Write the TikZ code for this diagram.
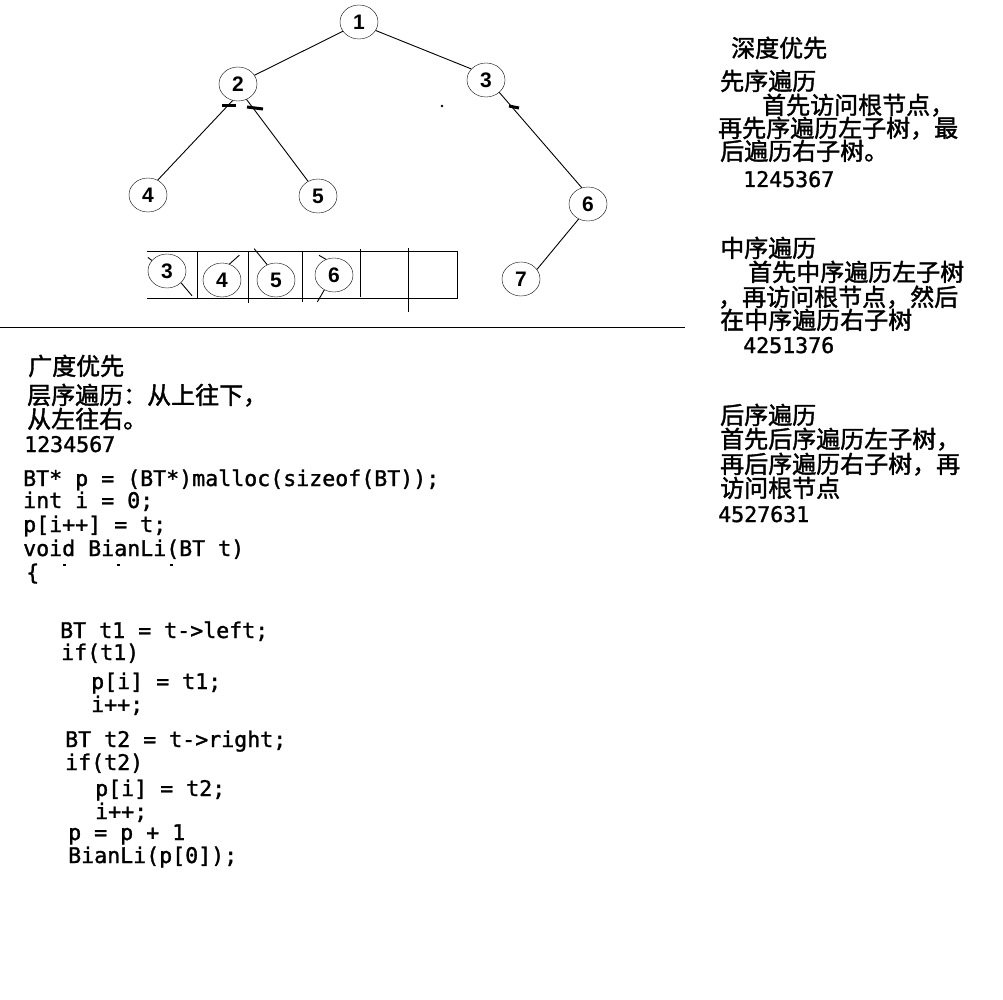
\documentclass[tikz,border=0pt]{standalone}
\usepackage{fontspec}
\setmainfont{Liberation Sans}
\newfontfamily\cjkfont{Noto Sans CJK SC}[FakeBold=1.6]
\newfontfamily\codefont{DejaVu Sans Mono}[FakeBold=1.4]
\usetikzlibrary{shapes.geometric,positioning}

\begin{document}
\begin{tikzpicture}
[x=1pt,y=-1pt,
vertex/.style={shape=ellipse,draw,inner sep=0pt,minimum width=38pt,minimum height=34pt,
  font=\bfseries\fontsize{21}{21}\selectfont},
myedge/.style={line width=0.9pt,black},
blot/.style={line width=3pt,black},
%
cjk/.style={anchor=base west,inner sep=0pt,font=\cjkfont\fontsize{24}{24}\selectfont},
code/.style={anchor=base west,inner sep=0pt,font=\codefont\fontsize{21.6}{21.6}\selectfont}]
%
\fill[white] (0,0) rectangle (1003,1000);
\useasboundingbox (0,0) rectangle (1003,1000);
%
\begin{scope}[local bounding box=tree]
\node (v1) [vertex] at (359,22) {1};
\node (v2) [vertex] at (238,84) {2};
\node (v3) [vertex] at (486,80) {3};
\node (v4) [vertex] at (148,195) {4};
\node (v5) [vertex] at (318,196) {5};
\node (v6) [vertex] at (588,204) {6};
\node (v7) [vertex] at (521,279) {7};
%
\draw[myedge] (v1.210) -- (v2.28);
\draw[myedge] (v1.-27) -- (v3.143);
\draw[myedge] (v2.-108) -- (v4.57);
\draw[myedge] (v2.-61) -- (v5.124);
\draw[myedge] (v3.-43) -- (v6.111);
\draw[myedge] (v6.238) -- (v7.31);
%
\draw[blot] (222,106) -- (236,106);
\draw[blot] (247,107) -- (263,109);
\draw[blot] (509,106) -- (519,108);
\fill (442,106) circle (1.3);
\end{scope}
%
%% queue
\begin{scope}[local bounding box=queue]
\draw[myedge] (147,251) -- (457,251) -- (457,298) -- (147,298);
\foreach \x/\a/\b in {197/251/299,248/251/303,302/251/302,360/249/297,408/248/312}
  \draw[myedge] (\x,\a) -- (\x,\b);
\node (q3) [vertex] at (167,271) {3};
\node (q4) [vertex] at (222,280) {4};
\node (q5) [vertex] at (276,280) {5};
\node (q6) [vertex] at (334,275) {6};
\draw[myedge] (q3.145) -- ++(-4,-3);
\draw[myedge] (q3.-40) -- ++(11,13);
\draw[myedge] (q4.65) -- ++(10,-9);
\draw[myedge] (q5.120) -- ++(-13,-16);
\draw[myedge] (q6.117) -- ++(-7,-4);
\draw[myedge] (q6.237) -- ++(-7,12);
\end{scope}
%
\draw[myedge] (0,327) -- (685,327);
%
%% depth first
\node (dfs) [cjk] at (731,57) {深度优先};
\node (pre) [cjk] at (720,90) {先序遍历};
\node (pre1) [cjk] at (762,114) {首先访问根节点，};
\node (pre2) [cjk] at (718,137) {再先序遍历左子树，最};
\node (pre3) [cjk] at (720,160) {后遍历右子树。};
\node (pren) [code] at (743,187) {1245367};
%
\node (in) [cjk] at (720,257) {中序遍历};
\node (in1) [cjk] at (748,281) {首先中序遍历左子树};
\node (in2) [cjk] at (718,306) {，再访问根节点，然后};
\node (in3) [cjk] at (720,329) {在中序遍历右子树};
\node (inn) [code] at (743,353) {4251376};
%
\node (post) [cjk] at (720,424) {后序遍历};
\node (post1) [cjk] at (720,448) {首先后序遍历左子树，};
\node (post2) [cjk] at (720,473) {再后序遍历右子树，再};
\node (post3) [cjk] at (720,497) {访问根节点};
\node (postn) [code] at (718,522) {4527631};
%
%% breadth first
\node (bfs) [cjk] at (28,375) {广度优先};
\node (lev1) [cjk] at (27,404) {层序遍历：从上往下，};
\node (lev2) [cjk] at (27,428) {从左往右。};
\node (levn) [code] at (24,452) {1234567};
%
\node (c1) [code] at (23,486) {BT* p = (BT*)malloc(sizeof(BT));};
\node (c2) [code] at (23,508) {int i = 0;};
\node (c3) [code] at (23,532) {p[i++] = t;};
\node (c4) [code] at (23,556) {void BianLi(BT t)};
\node (c5) [code] at (26,580) {\{};
\foreach \x in {63,117,170}
  \draw[line width=2pt] (\x,565) -- ++(3,0);
\node (c6) [code] at (60,638) {BT t1 = t->left;};
\node (c7) [code] at (61,660) {if(t1)};
\node (c8) [code] at (91,689) {p[i] = t1;};
\node (c9) [code] at (91,712) {i++;};
\node (c10) [code] at (65,747) {BT t2 = t->right;};
\node (c11) [code] at (65,770) {if(t2)};
\node (c12) [code] at (95,796) {p[i] = t2;};
\node (c13) [code] at (95,819) {i++;};
\node (c14) [code] at (68,840) {p = p + 1};
\node (c15) [code] at (68,863) {BianLi(p[0]);};
\end{tikzpicture}
\end{document}
